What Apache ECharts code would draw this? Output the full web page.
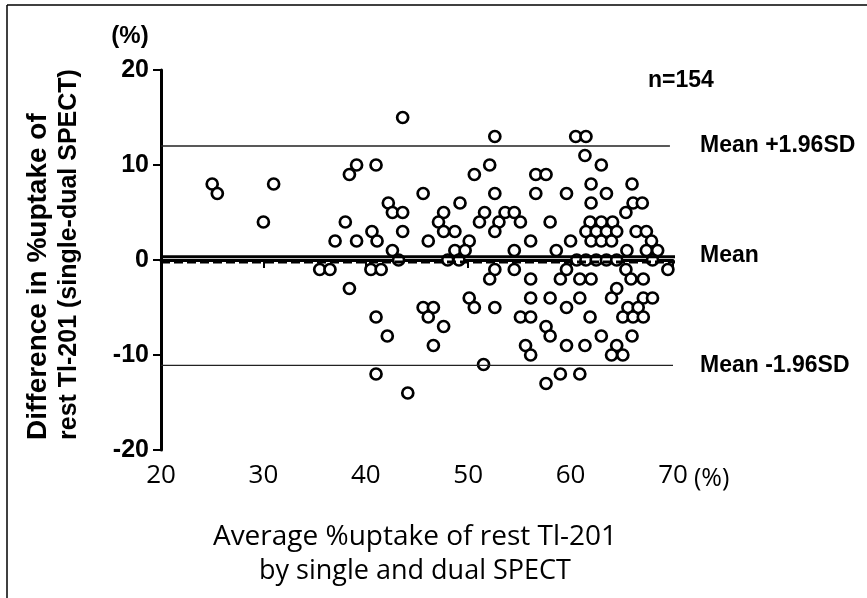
<!DOCTYPE html>
<html>
<head>
<meta charset="utf-8">
<script src="https://cdn.jsdelivr.net/npm/echarts@6/dist/echarts.min.js"></script>
<style>html,body{margin:0;padding:0;background:#fff;}#c{width:867px;height:598px;}</style>
</head>
<body>
<div id="c"></div>
<script>
// Average %uptake (x) and difference single-dual (y)
const avgUptake = [
  25.0,25.5,31.0,30.0,37.0,35.5,36.5,38.4,38.0,38.4,
  43.6,52.6,39.1,41.0,50.6,52.1,45.6,52.6,42.2,49.2,
  42.6,43.6,47.6,51.6,47.1,51.1,53.0,40.6,43.6,47.6,
  48.7,52.6,39.1,41.1,46.1,50.1,42.6,48.7,49.7,43.2,
  48.0,49.1,40.5,41.5,52.6,52.1,50.1,50.6,52.6,45.6,
  46.6,46.1,41.0,47.6,42.1,46.6,51.5,41.0,44.1,
  60.5,61.5,61.4,56.6,57.6,56.6,59.6,53.6,54.5,55.1,
  58.0,56.1,60.0,54.5,58.6,54.5,59.6,56.1,59.0,60.9,
  56.1,58.0,60.9,59.6,55.1,56.1,61.9,57.6,58.0,55.6,
  56.1,59.6,61.4,57.6,59.0,60.9,
  63.0,62.0,63.5,66.0,62.0,66.1,67.0,65.4,61.9,63.0,
  64.1,61.5,62.5,63.5,64.5,62.0,63.0,64.0,66.4,67.4,
  67.9,65.5,67.4,68.5,60.6,61.5,62.5,63.5,64.5,68.0,
  65.4,69.5,65.9,67.1,62.0,64.5,64.0,67.1,68.0,65.6,
  66.6,65.1,66.1,67.1,63.0,66.0,64.5,64.0,65.1
];
const diffUptake = [
  8,7,8,4,2,-1,-1,9,4,-3,
  15,13,10,10,9,10,7,7,6,6,
  5,5,5,5,4,4,4,3,3,3,
  3,3,2,2,2,2,1,1,1,0,
  0,0,-1,-1,-1,-2,-4,-5,-5,-5,
  -5,-6,-6,-7,-8,-9,-11,-12,-14,
  13,13,11,9,9,7,7,5,5,4,
  4,2,2,1,1,-1,-1,-2,-2,-2,
  -4,-4,-4,-5,-6,-6,-6,-7,-8,-9,
  -10,-9,-9,-13,-12,-12,
  10,8,7,8,6,6,6,5,4,4,
  4,3,3,3,3,2,2,2,3,3,
  2,1,1,1,0,0,0,0,0,0,
  -1,-1,-2,-2,-2,-3,-4,-4,-4,-5,
  -5,-6,-6,-6,-8,-8,-9,-10,-10
];
const xTicks = [20, 30, 40, 50, 60, 70];
const yTicks = [-20, -10, 0, 10, 20];
const meanDiff = 0.35;
const meanDashed = -0.2;
const upperLimit = 12.0;
const lowerLimit = -11.1;
const lineStart = 20;
const meanEnd = 70.3;
const upperEnd = 69.7;
const lowerEnd = 70.0;
const sampleLabel = 'n=154';

const points = avgUptake.map((x, i) => [x, diffUptake[i]]);

const chart = echarts.init(document.getElementById('c'));
const boldFont = '"Liberation Sans", Arial, sans-serif';
const thinFont = '"Open Sans", Lato, sans-serif';

chart.setOption({
  animation: false,
  backgroundColor: '#fff',
  grid: { left: 161, right: 194, top: 70, bottom: 148 },
  xAxis: {
    type: 'value', min: xTicks[0], max: xTicks[xTicks.length - 1], interval: 10,
    axisLine: { lineStyle: { color: '#000', width: 3 } },
    axisTick: { inside: false, length: 8, lineStyle: { color: '#000', width: 2 } },
    axisLabel: { color: '#000', fontFamily: thinFont, fontSize: 26, margin: 13 },
    splitLine: { show: false }
  },
  yAxis: {
    type: 'value', min: yTicks[0], max: yTicks[yTicks.length - 1], interval: 10,
    axisLine: { onZero: false, lineStyle: { color: '#000', width: 3 } },
    axisTick: { length: 8, lineStyle: { color: '#000', width: 2 } },
    axisLabel: { color: '#000', fontFamily: boldFont, fontWeight: 'bold', fontSize: 25, margin: 12 },
    splitLine: { show: false }
  },
  series: [
    {
      type: 'scatter', data: points, symbol: 'circle', symbolSize: 11, z: 2,
      itemStyle: { color: '#fff', borderColor: '#000', borderWidth: 2.7, opacity: 1 }
    },
    {
      type: 'line', data: [[lineStart, upperLimit], [upperEnd, upperLimit]], symbol: 'none', clip: false, z: 3,
      lineStyle: { color: '#222', width: 1.3 }
    },
    {
      type: 'line', data: [[lineStart, lowerLimit], [lowerEnd, lowerLimit]], symbol: 'none', clip: false, z: 3,
      lineStyle: { color: '#222', width: 1.3 }
    },
    {
      type: 'line', data: [[lineStart, meanDiff], [meanEnd, meanDiff]], symbol: 'none', clip: false, z: 4,
      lineStyle: { color: '#000', width: 3 }
    },
    {
      type: 'line', data: [[lineStart, meanDashed], [meanEnd, meanDashed]], symbol: 'none', clip: false, z: 4,
      lineStyle: { color: '#000', width: 3, type: [9, 4] }
    }
  ],
  graphic: [
    { type: 'line', shape: { x1: 7, y1: 5, x2: 867, y2: 5 }, style: { stroke: '#000', lineWidth: 1.5 } },
    { type: 'line', shape: { x1: 7, y1: 5, x2: 7, y2: 598 }, style: { stroke: '#000', lineWidth: 1.5 } },
    { type: 'text', x: 130, y: 36, style: { text: '(%)', font: 'bold 24px ' + boldFont, fill: '#000', align: 'center', verticalAlign: 'middle' } },
    { type: 'text', x: 38, y: 440, rotation: Math.PI / 2, style: { text: 'Difference in %uptake of', font: 'bold 28px ' + boldFont, fill: '#000', align: 'left', verticalAlign: 'middle' } },
    { type: 'text', x: 69, y: 440, rotation: Math.PI / 2, style: { text: 'rest Tl-201 (single-dual SPECT)', font: 'bold 25px ' + boldFont, fill: '#000', align: 'left', verticalAlign: 'middle' } },
    { type: 'text', x: 694, y: 479, style: { text: '(%)', font: '25px ' + thinFont, fill: '#000', align: 'left', verticalAlign: 'middle' } },
    { type: 'text', x: 415, y: 537, style: { text: 'Average %uptake of rest Tl-201', font: '28px ' + thinFont, fill: '#000', align: 'center', verticalAlign: 'middle' } },
    { type: 'text', x: 415, y: 571, style: { text: 'by single and dual SPECT', font: '27px ' + thinFont, fill: '#000', align: 'center', verticalAlign: 'middle' } },
    { type: 'text', x: 648, y: 81, style: { text: sampleLabel, font: 'bold 23px ' + boldFont, fill: '#000', align: 'left', verticalAlign: 'middle' } },
    { type: 'text', x: 700, y: 146, style: { text: 'Mean +1.96SD', font: 'bold 23px ' + boldFont, fill: '#000', align: 'left', verticalAlign: 'middle' } },
    { type: 'text', x: 700, y: 256, style: { text: 'Mean', font: 'bold 23px ' + boldFont, fill: '#000', align: 'left', verticalAlign: 'middle' } },
    { type: 'text', x: 700, y: 366, style: { text: 'Mean -1.96SD', font: 'bold 23px ' + boldFont, fill: '#000', align: 'left', verticalAlign: 'middle' } }
  ]
});
</script>
</body>
</html>
